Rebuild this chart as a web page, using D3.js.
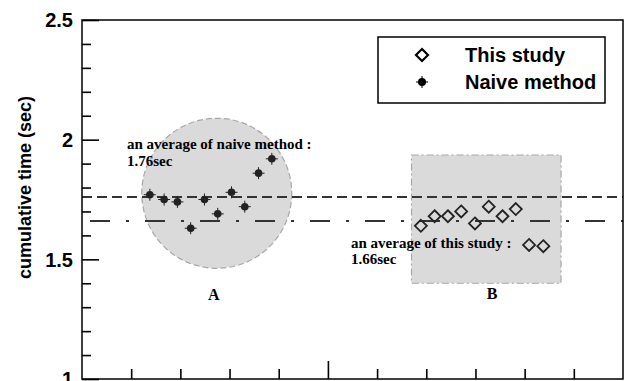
<!DOCTYPE html>
<html lang="en">
<head>
<meta charset="utf-8" />
<title>cumulative time</title>
<script src="https://d3js.org/d3.v7.min.js"></script>
<style>
	body { margin: 0; background: white; }
	svg { display: block; }
	.axis path { display: none; }
	.axis line { stroke: #000; stroke-width: 1.6px; }
</style>
</head>
<body>
<svg width="629" height="381"></svg>
<script>

//	data: sample position and cumulative time (sec)
var naiveX = [1.38, 1.67, 1.94, 2.21, 2.49, 2.76, 3.04, 3.31, 3.59, 3.86];
var naiveY = [1.77, 1.75, 1.74, 1.63, 1.75, 1.69, 1.78, 1.72, 1.86, 1.92];
var studyX = [6.89, 7.17, 7.44, 7.71, 7.99, 8.27, 8.55, 8.82, 9.09, 9.38];
var studyY = [1.64, 1.68, 1.68, 1.70, 1.65, 1.72, 1.68, 1.71, 1.56, 1.555];
var averages = [1.76, 1.66];
var yTickLabels = [1, 1.5, 2, 2.5];
var yMinorTicks = [1.1, 1.2, 1.3, 1.4, 1.6, 1.7, 1.8, 1.9, 2.1, 2.2, 2.3, 2.4];
var xMinorTicks = [1, 2, 3, 4, 6, 7, 8, 9, 10];
var xMajorTicks = [5];
var legendLabels = ["This study", "Naive method"];

//	svg selection and sizing
var svg = d3.select("svg"),
	margin = {top: 20, right: 6, bottom: 2, left: 82},
	width = +svg.attr("width"),
	height = +svg.attr("height");

var x = d3.scaleLinear().domain([0, 11]).range([margin.left, width - margin.right]);
var y = d3.scaleLinear().domain([1, 2.5]).range([379, margin.top]);

//	shaded regions A and B
var regionA = {cx: 2.74, cy: 1.776, r: 1.525};
var regionB = {x0: 6.70, x1: 9.74, y0: 1.40, y1: 1.936};

svg.append("circle")
	.attr("cx", x(regionA.cx))
	.attr("cy", y(regionA.cy))
	.attr("r", x(regionA.r) - x(0))
	.attr("fill", "#dadada")
	.attr("stroke", "#a8a8a8")
	.attr("stroke-width", 1.2)
	.attr("stroke-dasharray", "6 3");

svg.append("rect")
	.attr("x", x(regionB.x0))
	.attr("y", y(regionB.y1))
	.attr("width", x(regionB.x1) - x(regionB.x0))
	.attr("height", y(regionB.y0) - y(regionB.y1))
	.attr("fill", "#dadada")
	.attr("stroke", "#a8a8a8")
	.attr("stroke-width", 1.2)
	.attr("stroke-dasharray", "7 3 2 3");

//	average lines
svg.selectAll(".avg")
	.data(averages)
	.enter().append("line")
	.attr("class", "avg")
	.attr("x1", x(0))
	.attr("x2", x(11))
	.attr("y1", d => y(d))
	.attr("y2", d => y(d))
	.attr("stroke", "#333")
	.attr("stroke-width", 2)
	.attr("stroke-dasharray", (d, i) => i === 0 ? "10 5" : "20 16 3 16")
	.attr("stroke-dashoffset", (d, i) => i === 0 ? 0 : 47);

//	frame
svg.append("rect")
	.attr("x", x(0))
	.attr("y", y(2.5))
	.attr("width", x(11) - x(0))
	.attr("height", y(1) - y(2.5))
	.attr("fill", "none")
	.attr("stroke", "#000")
	.attr("stroke-width", 1.5);

//	axes with inward ticks (minor + major)
svg.append("g").attr("class", "axis")
	.attr("transform", "translate(" + x(0) + ",0)")
	.call(d3.axisRight(y).tickValues(yMinorTicks).tickSize(9).tickFormat(""));
svg.append("g").attr("class", "axis")
	.attr("transform", "translate(" + x(0) + ",0)")
	.call(d3.axisRight(y).tickValues(yTickLabels).tickSize(17).tickFormat(""));
svg.append("g").attr("class", "axis")
	.attr("transform", "translate(0," + y(1) + ")")
	.call(d3.axisTop(x).tickValues(xMinorTicks).tickSize(10).tickFormat(""));
svg.append("g").attr("class", "axis")
	.attr("transform", "translate(0," + y(1) + ")")
	.call(d3.axisTop(x).tickValues(xMajorTicks).tickSize(18).tickFormat(""));

svg.append("g")
	.selectAll("text")
	.data(yTickLabels)
	.enter().append("text")
	.attr("x", x(0) - 9)
	.attr("y", d => y(d))
	.attr("dy", "0.36em")
	.attr("text-anchor", "end")
	.style("font", "bold 20px Arial, 'Liberation Sans', sans-serif")
	.text(d => d);

svg.append("text")
	.attr("transform", "translate(31," + ((y(2.5) + y(1)) / 2 - 12) + ") rotate(-90)")
	.attr("text-anchor", "middle")
	.style("font", "bold 18px Arial, 'Liberation Sans', sans-serif")
	.text("cumulative time (sec)");

//	naive method markers: dot with small cross bars
var naive = svg.append("g").selectAll("g")
	.data(d3.zip(naiveX, naiveY))
	.enter().append("g")
	.attr("transform", d => "translate(" + x(d[0]) + "," + y(d[1]) + ")");
naive.append("path")
	.attr("d", "M-6,0H6M0,-6V6")
	.attr("stroke", "#222")
	.attr("stroke-width", 1);
naive.append("circle")
	.attr("r", 3.8)
	.attr("fill", "#222");

//	this study markers: open diamonds
svg.append("g").selectAll("path")
	.data(d3.zip(studyX, studyY))
	.enter().append("path")
	.attr("transform", d => "translate(" + x(d[0]) + "," + y(d[1]) + ")")
	.attr("d", "M0,-6L6,0L0,6L-6,0Z")
	.attr("fill", "none")
	.attr("stroke", "#222")
	.attr("stroke-width", 1.8);

//	annotations
var serif = "bold 15px 'Times New Roman', 'Liberation Serif', serif";
svg.append("text").attr("x", 127).attr("y", 149).style("font", serif)
	.text("an average of naive method :");
svg.append("text").attr("x", 127).attr("y", 166).style("font", serif)
	.text(averages[0] + "sec");
svg.append("text").attr("x", 351).attr("y", 248).style("font", serif)
	.text("an average of this study :");
svg.append("text").attr("x", 351).attr("y", 264).style("font", serif)
	.text(averages[1] + "sec");
svg.append("text").attr("x", x(regionA.cx) - 3).attr("y", 300).attr("text-anchor", "middle")
	.style("font", "bold 16px 'Times New Roman', 'Liberation Serif', serif").text("A");
svg.append("text").attr("x", 492).attr("y", 299).attr("text-anchor", "middle")
	.style("font", "bold 16px 'Times New Roman', 'Liberation Serif', serif").text("B");

//	legend
var legend = svg.append("g");
legend.append("rect")
	.attr("x", 378).attr("y", 37)
	.attr("width", 227).attr("height", 66)
	.attr("fill", "white")
	.attr("stroke", "#000")
	.attr("stroke-width", 1.5);
legend.append("path")
	.attr("transform", "translate(422,55)")
	.attr("d", "M0,-6L6,0L0,6L-6,0Z")
	.attr("fill", "none").attr("stroke", "#000").attr("stroke-width", 2.2);
legend.append("path")
	.attr("transform", "translate(422,82)")
	.attr("d", "M-6,0H6M0,-6V6")
	.attr("stroke", "#000").attr("stroke-width", 1);
legend.append("circle")
	.attr("cx", 422).attr("cy", 82).attr("r", 4).attr("fill", "#000");
legend.selectAll("text")
	.data(legendLabels)
	.enter().append("text")
	.attr("x", 465)
	.attr("y", (d, i) => 62 + i * 27)
	.style("font", "bold 20px Arial, 'Liberation Sans', sans-serif")
	.text(d => d);

</script>
</body>
</html>
